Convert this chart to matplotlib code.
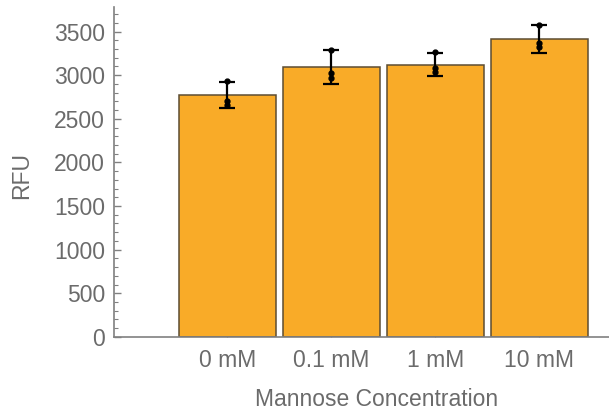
import matplotlib.pyplot as plt
from matplotlib.ticker import MultipleLocator
import numpy as np

plt.rcParams['font.family'] = ['Liberation Sans', 'DejaVu Sans']

# mannose series: bar heights, error half-widths and replicate readings
concentrations = ['0 mM', '0.1 mM', '1 mM', '10 mM']
mean_rfu = [2775, 3090, 3120, 3410]
err_rfu = [150, 195, 130, 160]
replicates = [
    [2930, 2700, 2660],
    [3290, 3020, 2970],
    [3260, 3080, 3040],
    [3580, 3370, 3320],
]

text_grey = '#6b6b6b'
axis_grey = '#808080'
fsize = 16.5

fig = plt.figure(figsize=(6.09, 4.17), dpi=100)
ax = fig.add_axes([0.187, 0.192, 0.813, 0.791])

x = np.arange(len(concentrations))
ax.bar(x, mean_rfu, width=0.93, color='#f9ab28', edgecolor='#5c4d33', linewidth=1.1, zorder=2)
ax.errorbar(x, mean_rfu, yerr=err_rfu, fmt='none', ecolor='black', elinewidth=1.6,
            capsize=5.5, capthick=1.6, zorder=3)
for xi, pts in zip(x, replicates):
    ax.plot([xi] * len(pts), pts, 'o', color='black', markersize=3.5, zorder=4)

ax.set_xlim(-1.09, 3.67)
ax.set_ylim(0, 3780)

ax.set_xticks(x)
ax.set_xticklabels(concentrations)
ax.yaxis.set_major_locator(MultipleLocator(500))
ax.yaxis.set_minor_locator(MultipleLocator(100))

ax.tick_params(axis='y', which='major', direction='in', length=5, width=1, color=axis_grey,
               labelsize=fsize, labelcolor=text_grey, pad=6.5)
ax.tick_params(axis='y', which='minor', direction='in', length=3, width=0.8, color=axis_grey)
ax.tick_params(axis='x', which='major', direction='in', length=3, width=0.8, color=axis_grey,
               labelsize=fsize, labelcolor=text_grey, pad=9)

for side in ('top', 'right'):
    ax.spines[side].set_visible(False)
for side in ('left', 'bottom'):
    ax.spines[side].set_color(axis_grey)
    ax.spines[side].set_linewidth(1.2)

ax.set_ylabel('RFU', fontsize=fsize, color=text_grey, va='center')
ax.yaxis.set_label_coords(-0.186, 0.49)
ax.set_xlabel('Mannose Concentration', fontsize=fsize, color=text_grey, va='center')
ax.xaxis.set_label_coords(0.531, -0.19)

fig.savefig('out.png', dpi=100)
